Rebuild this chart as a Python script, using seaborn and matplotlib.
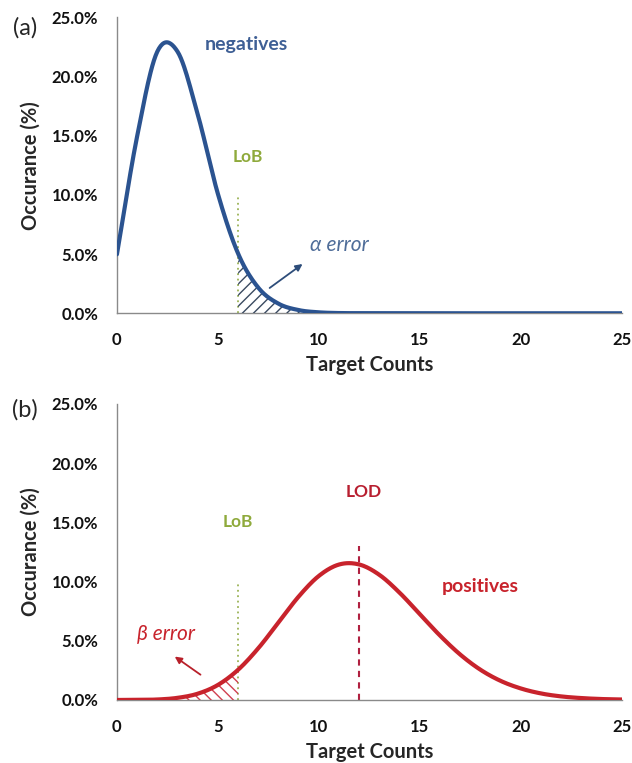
import numpy as np
import pandas as pd
import matplotlib
matplotlib.use("Agg")
import matplotlib.pyplot as plt
import seaborn as sns
from matplotlib.ticker import MultipleLocator, FuncFormatter

# ---------------- data ----------------
counts = list(range(26))
negatives = [4.98, 14.94, 22.1, 22.1, 16.8, 10.08, 5.04, 2.16, 0.81, 0.27, 0.08, 0.02, 0.01,
             0.0, 0.0, 0.0, 0.0, 0.0, 0.0, 0.0, 0.0, 0.0, 0.0, 0.0, 0.0, 0.0]
positives = [0.0, 0.01, 0.04, 0.18, 0.53, 1.27, 2.55, 4.37, 6.55, 8.74, 10.48, 11.44, 11.44,
             10.56, 9.05, 7.24, 5.43, 3.83, 2.55, 1.61, 0.97, 0.55, 0.30, 0.16, 0.08, 0.04]
lob = 6
lod = 12
lob_top = 10.0
lod_top = 13.0
alpha_range = (6, 9.2)
beta_range = (3.3, 6)
panel_labels = ["(a)", "(b)"]
y_ticks = [0, 5, 10, 15, 20, 25]
x_ticks = [0, 5, 10, 15, 20, 25]

# ---------------- style ----------------
sns.set_style("white")
plt.rcParams["font.family"] = ["Lato", "DejaVu Sans"]
plt.rcParams["hatch.linewidth"] = 1.0

BLUE = "#2b5390"
RED = "#c8232c"
GREEN = "#9bb356"
LODRED = "#b02040"
SPINE = "#8a8a8a"


def smooth(x, y, n=24):
    """Catmull-Rom style smoothed line through the data points (like a spreadsheet 'smoothed line')."""
    x = np.asarray(x, float)
    y = np.asarray(y, float)
    xs, ys = [], []
    for i in range(len(x) - 1):
        p0 = y[i - 1] if i > 0 else y[i]
        p1, p2 = y[i], y[i + 1]
        p3 = y[i + 2] if i + 2 < len(y) else y[i + 1]
        m1 = (p2 - p0) / (2 if i > 0 else 1)
        m2 = (p3 - p1) / (2 if i + 2 < len(y) else 1)
        t = np.linspace(0, 1, n, endpoint=False)
        h00 = 2 * t**3 - 3 * t**2 + 1
        h10 = t**3 - 2 * t**2 + t
        h01 = -2 * t**3 + 3 * t**2
        h11 = t**3 - t**2
        xs.append(x[i] + t * (x[i + 1] - x[i]))
        ys.append(h00 * p1 + h10 * m1 + h01 * p2 + h11 * m2)
    xs.append([x[-1]])
    ys.append([y[-1]])
    return np.concatenate(xs), np.clip(np.concatenate(ys), 0, None)


fig = plt.figure(figsize=(6.32, 7.63), dpi=100)
ax1 = fig.add_axes([0.185, 0.5894, 0.799, 0.388])
ax2 = fig.add_axes([0.185, 0.0826, 0.799, 0.388])


def style_axis(ax):
    ax.set_xlim(0, 25)
    ax.set_ylim(0, 25)
    ax.set_xticks(x_ticks)
    ax.set_yticks(y_ticks)
    ax.xaxis.set_minor_locator(MultipleLocator(1))
    ax.yaxis.set_minor_locator(MultipleLocator(1))
    ax.yaxis.set_major_formatter(FuncFormatter(lambda v, p: f"{v:.1f}%"))
    for s in ["top", "right"]:
        ax.spines[s].set_visible(False)
    for s in ["left", "bottom"]:
        ax.spines[s].set_color(SPINE)
        ax.spines[s].set_linewidth(1.0)
    ax.tick_params(which="major", direction="inout", length=7, width=1, color=SPINE,
                   labelsize=12, labelcolor="#111111")
    ax.tick_params(which="minor", direction="inout", length=4, width=0.8, color=SPINE)
    ax.tick_params(axis="y", which="major", pad=10)
    ax.tick_params(axis="x", which="major", pad=10)
    for lab in ax.get_xticklabels() + ax.get_yticklabels():
        lab.set_fontweight("bold")
    ax.set_xlabel("Target Counts", fontsize=14.5, fontweight="bold", labelpad=5)
    ax.set_ylabel("Occurance (%)", fontsize=14.5, fontweight="bold", labelpad=8)


# ---------------- panel (a) ----------------
xs, ys = smooth(counts, negatives)
df_neg = pd.DataFrame({"Target Counts": xs, "Occurance": ys})
sns.lineplot(data=df_neg, x="Target Counts", y="Occurance", ax=ax1, color=BLUE,
             linewidth=3.0, zorder=4)
m = (xs >= alpha_range[0]) & (xs <= alpha_range[1])
ax1.fill_between(xs[m], 0, ys[m], facecolor="none", edgecolor="#3a4a60",
                 hatch="///", linewidth=0, zorder=3)
ax1.plot([lob, lob], [0, lob_top], color=GREEN, linestyle=(0, (1, 2)), linewidth=1.3, zorder=2)
ax1.annotate("", xy=(9.3, 4.3), xytext=(7.45, 2.0),
             arrowprops=dict(arrowstyle="-|>", color="#2e4d7a", lw=1.3, mutation_scale=10))
ax1.text(9.55, 5.8, "α error", fontsize=15, style="italic", color="#4f6d99",
         va="center", ha="left", family=["Lato", "DejaVu Sans"])
ax1.text(6.4, 22.7, "negatives", fontsize=14, fontweight="bold", color="#3e5f95",
         ha="center", va="center")
ax1.text(6.5, 13.2, "LoB", fontsize=12.5, fontweight="bold", color="#8faa3c",
         ha="center", va="center")
style_axis(ax1)

# ---------------- panel (b) ----------------
xs2, ys2 = smooth(counts, positives)
df_pos = pd.DataFrame({"Target Counts": xs2, "Occurance": ys2})
sns.lineplot(data=df_pos, x="Target Counts", y="Occurance", ax=ax2, color=RED,
             linewidth=3.0, zorder=4)
m2 = (xs2 >= beta_range[0]) & (xs2 <= beta_range[1])
ax2.fill_between(xs2[m2], 0, ys2[m2], facecolor="none", edgecolor="#d04050",
                 hatch="\\\\\\", linewidth=0, zorder=3)
ax2.plot([lob, lob], [0, lob_top], color=GREEN, linestyle=(0, (1, 2)), linewidth=1.3, zorder=2)
ax2.plot([lod, lod], [0, lod_top], color=LODRED, linestyle=(0, (3, 2.5)), linewidth=1.5, zorder=2)
ax2.annotate("", xy=(2.75, 3.8), xytext=(4.25, 2.0),
             arrowprops=dict(arrowstyle="-|>", color="#b8202a", lw=1.3, mutation_scale=10))
ax2.text(1.0, 5.6, "β error", fontsize=15, style="italic", color="#c8232c",
         va="center", ha="left", family=["Lato", "DejaVu Sans"])
ax2.text(18.0, 9.6, "positives", fontsize=14, fontweight="bold", color="#c8232c",
         ha="center", va="center")
ax2.text(12.2, 17.6, "LOD", fontsize=12.5, fontweight="bold", color="#b81f30",
         ha="center", va="center")
ax2.text(6.0, 15.0, "LoB", fontsize=12.5, fontweight="bold", color="#8faa3c",
         ha="center", va="center")
style_axis(ax2)

fig.text(25 / 632, 1 - 28 / 763, panel_labels[0], fontsize=17, ha="center", va="center")
fig.text(25 / 632, 1 - 410 / 763, panel_labels[1], fontsize=17, ha="center", va="center")

fig.savefig("out.png", dpi=100)
